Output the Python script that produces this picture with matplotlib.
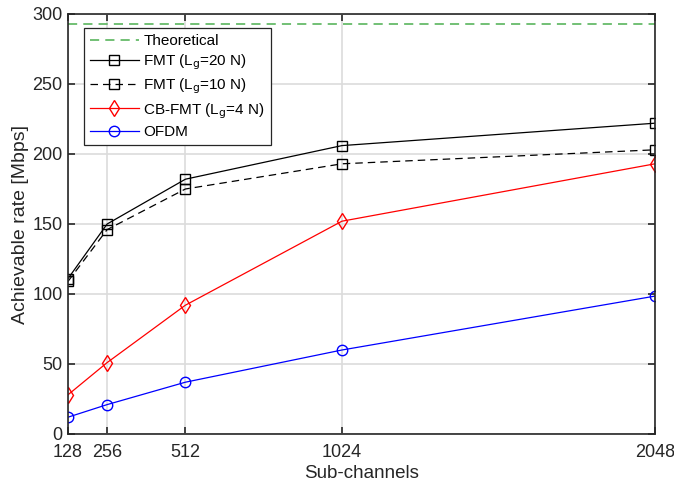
import numpy as np
import matplotlib.pyplot as plt

plt.rcParams['font.family'] = ['Liberation Sans', 'DejaVu Sans']

subch = [128, 256, 512, 1024, 2048]
theoretical = 293
fmt20 = [111, 150, 182, 206, 222]
fmt10 = [109, 146, 175, 193, 203]
cbfmt = [28, 51, 92, 152, 193]
ofdm = [12, 21, 37, 60, 98.5]

fig = plt.figure(figsize=(6.74, 4.87), dpi=100)
ax = fig.add_axes([68/674, 53/487, 587/674, 420/487])

ax.axhline(theoretical, color='#4caf50', ls=(0, (6, 4)), lw=1.1, label='Theoretical')
ax.plot(subch, fmt20, 'k-s', mfc='none', ms=6.5, lw=0.9, label='FMT (L$_\\mathrm{g}$=20 N)')
ax.plot(subch, fmt10, 'k--s', mfc='none', ms=6.5, lw=0.9, dashes=(6, 4), label='FMT (L$_\\mathrm{g}$=10 N)')
ax.plot(subch, cbfmt, 'r-d', mfc='none', ms=8, lw=0.9, label='CB-FMT (L$_\\mathrm{g}$=4 N)')
ax.plot(subch, ofdm, 'b-o', mfc='none', ms=7.5, lw=0.9, label='OFDM')

ax.set_xlim(128, 2048)
ax.set_ylim(0, 300)
ax.set_xticks(subch)
ax.set_yticks(np.arange(0, 301, 50))
ax.grid(True, color='#dcdcdc', lw=1.2)
ax.set_axisbelow(True)
ax.tick_params(direction='in', top=True, right=True, labelsize=13, length=5, width=1.2,
               colors='#262626')
ax.tick_params(axis='x', pad=7)
ax.tick_params(axis='y', pad=4)
for s in ax.spines.values():
    s.set_linewidth(1.2)
    s.set_color('#262626')
ax.set_xlabel('Sub-channels', fontsize=13.5, color='#262626', labelpad=3)
ax.set_ylabel('Achievable rate [Mbps]', fontsize=14, color='#262626', labelpad=2)

leg = ax.legend(loc='upper left', bbox_to_anchor=(0.027, 0.967), borderaxespad=0,
                fontsize=11, fancybox=False, edgecolor='#262626', framealpha=1,
                handlelength=3.2, handletextpad=0.3, borderpad=0.4, labelspacing=0.3)
leg.get_frame().set_linewidth(0.9)

plt.savefig('out.png', dpi=100)
